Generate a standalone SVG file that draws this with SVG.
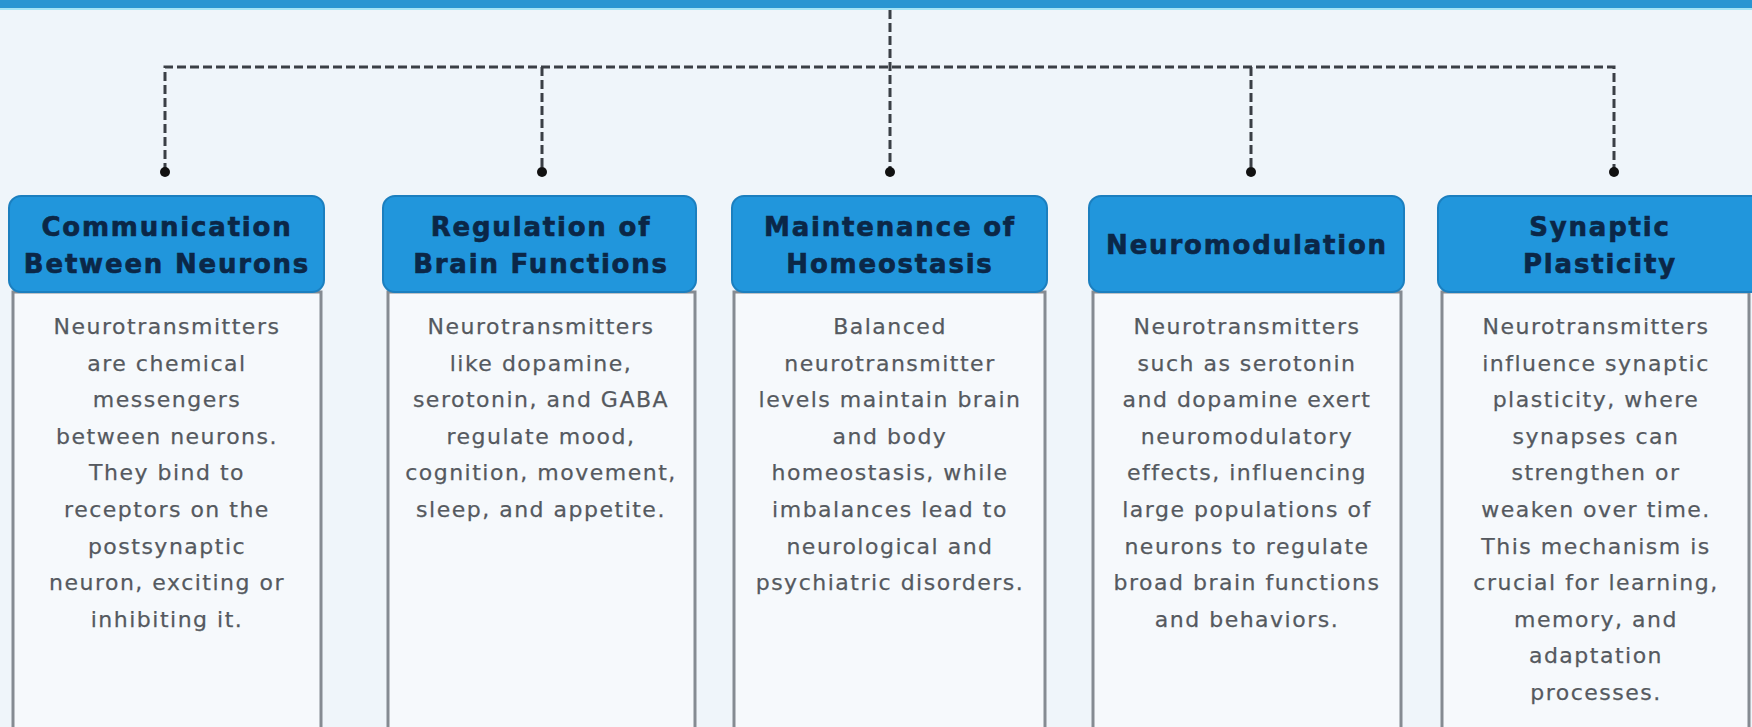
<svg xmlns="http://www.w3.org/2000/svg" width="1752" height="727" viewBox="0 0 1752 727">
<style>
.hdr{fill:#2196dc;stroke:#1b7fbf;stroke-width:2}
.body{fill:#f6f9fc;stroke:#858b92;stroke-width:3}
.ht{font-family:"DejaVu Sans",sans-serif;font-weight:bold;font-size:26px;fill:#0b2747;stroke:#0b2747;stroke-width:0.6;text-anchor:middle;letter-spacing:1.8px}
.bt{font-family:"DejaVu Sans",sans-serif;font-size:22px;fill:#55595f;stroke:#55595f;stroke-width:0.25;text-anchor:middle;letter-spacing:1.5px}
.dash{fill:none;stroke:#3a3f45;stroke-width:3;stroke-dasharray:9 4}
.dot{fill:#111}
</style>
<rect x="0" y="0" width="1752" height="727" fill="#eff5fa"/>
<rect x="0" y="0" width="1752" height="8" fill="#2a95d2"/>
<rect x="0" y="8" width="1752" height="2" fill="#a6e3f5"/>
<g id="connectors">
<path class="dash" d="M890 10 V172"/>
<path class="dash" d="M165 172 V67 H1614 V172"/>
<path class="dash" d="M542 67 V172"/>
<path class="dash" d="M1251 67 V172"/>
<circle class="dot" cx="165" cy="172" r="5"/>
<circle class="dot" cx="542" cy="172" r="5"/>
<circle class="dot" cx="890" cy="172" r="5"/>
<circle class="dot" cx="1251" cy="172" r="5"/>
<circle class="dot" cx="1614" cy="172" r="5"/>
</g>
<g id="node1">
<rect class="body" x="13" y="292" width="308" height="460"/>
<rect class="hdr" x="9" y="196" width="315" height="96" rx="12"/>
<text class="ht" x="167" y="236">Communication</text>
<text class="ht" x="167" y="273">Between Neurons</text>
<text class="bt" x="167" y="334">Neurotransmitters</text>
<text class="bt" x="167" y="370.6">are chemical</text>
<text class="bt" x="167" y="407.2">messengers</text>
<text class="bt" x="167" y="443.8">between neurons.</text>
<text class="bt" x="167" y="480.4">They bind to</text>
<text class="bt" x="167" y="517">receptors on the</text>
<text class="bt" x="167" y="553.6">postsynaptic</text>
<text class="bt" x="167" y="590.2">neuron, exciting or</text>
<text class="bt" x="167" y="626.8">inhibiting it.</text>
</g>
<g id="node2">
<rect class="body" x="388" y="292" width="307" height="460"/>
<rect class="hdr" x="383" y="196" width="313" height="96" rx="12"/>
<text class="ht" x="541" y="236">Regulation of</text>
<text class="ht" x="541" y="273">Brain Functions</text>
<text class="bt" x="541" y="334">Neurotransmitters</text>
<text class="bt" x="541" y="370.6">like dopamine,</text>
<text class="bt" x="541" y="407.2">serotonin, and GABA</text>
<text class="bt" x="541" y="443.8">regulate mood,</text>
<text class="bt" x="541" y="480.4">cognition, movement,</text>
<text class="bt" x="541" y="517">sleep, and appetite.</text>
</g>
<g id="node3">
<rect class="body" x="734" y="292" width="311" height="460"/>
<rect class="hdr" x="732" y="196" width="315" height="96" rx="12"/>
<text class="ht" x="890" y="236">Maintenance of</text>
<text class="ht" x="890" y="273">Homeostasis</text>
<text class="bt" x="890" y="334">Balanced</text>
<text class="bt" x="890" y="370.6">neurotransmitter</text>
<text class="bt" x="890" y="407.2">levels maintain brain</text>
<text class="bt" x="890" y="443.8">and body</text>
<text class="bt" x="890" y="480.4">homeostasis, while</text>
<text class="bt" x="890" y="517">imbalances lead to</text>
<text class="bt" x="890" y="553.6">neurological and</text>
<text class="bt" x="890" y="590.2">psychiatric disorders.</text>
</g>
<g id="node4">
<rect class="body" x="1093" y="292" width="308" height="460"/>
<rect class="hdr" x="1089" y="196" width="315" height="96" rx="12"/>
<text class="ht" x="1247" y="254">Neuromodulation</text>
<text class="bt" x="1247" y="334">Neurotransmitters</text>
<text class="bt" x="1247" y="370.6">such as serotonin</text>
<text class="bt" x="1247" y="407.2">and dopamine exert</text>
<text class="bt" x="1247" y="443.8">neuromodulatory</text>
<text class="bt" x="1247" y="480.4">effects, influencing</text>
<text class="bt" x="1247" y="517">large populations of</text>
<text class="bt" x="1247" y="553.6">neurons to regulate</text>
<text class="bt" x="1247" y="590.2">broad brain functions</text>
<text class="bt" x="1247" y="626.8">and behaviors.</text>
</g>
<g id="node5">
<rect class="body" x="1442" y="292" width="307" height="460"/>
<rect class="hdr" x="1438" y="196" width="325" height="96" rx="12"/>
<text class="ht" x="1600" y="236">Synaptic</text>
<text class="ht" x="1600" y="273">Plasticity</text>
<text class="bt" x="1596" y="334">Neurotransmitters</text>
<text class="bt" x="1596" y="370.6">influence synaptic</text>
<text class="bt" x="1596" y="407.2">plasticity, where</text>
<text class="bt" x="1596" y="443.8">synapses can</text>
<text class="bt" x="1596" y="480.4">strengthen or</text>
<text class="bt" x="1596" y="517">weaken over time.</text>
<text class="bt" x="1596" y="553.6">This mechanism is</text>
<text class="bt" x="1596" y="590.2">crucial for learning,</text>
<text class="bt" x="1596" y="626.8">memory, and</text>
<text class="bt" x="1596" y="663.4">adaptation</text>
<text class="bt" x="1596" y="700">processes.</text>
</g>
</svg>
